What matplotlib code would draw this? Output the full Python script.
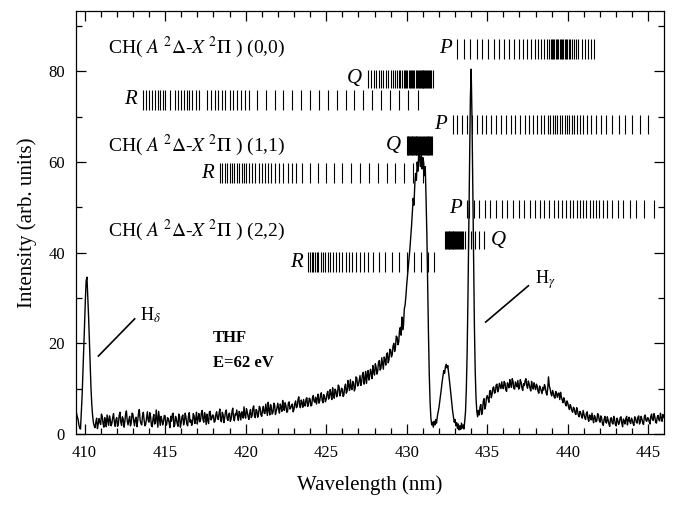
import matplotlib
matplotlib.use("Agg")
import matplotlib.pyplot as plt
import numpy as np
from matplotlib.ticker import MultipleLocator

plt.rcParams['font.family'] = ['Liberation Serif', 'DejaVu Serif']
plt.rcParams['mathtext.fontset'] = 'stix'

# spectrum: readings every 0.1 nm from 409.5 nm ...
wl_start = 409.5
wl_step = 0.05
intensity = [
    4.6, 3.2, 1.3, 4.8, 13.5,
    24.0, 33.8, 30.5, 20.5, 10.2, 4.1, 1.8, 2.6, 1.2, 3.4,       # 410
    2.1, 3.8, 1.5, 2.9, 4.2, 1.9, 3.1, 2.4, 4.5, 1.7,            # 411
    3.6, 2.2, 4.8, 1.9, 3.3, 2.7, 5.1, 2.0, 3.9, 2.5,            # 412
    4.4, 1.8, 3.7, 2.9, 5.4, 2.3, 4.1, 3.0, 2.2, 4.9,            # 413
    2.6, 3.8, 1.6, 4.3, 2.4, 3.5, 5.0, 1.9, 3.2, 2.7,            # 414
    4.0, 2.1, 3.4, 1.4, 2.8, 4.6, 2.0, 3.3, 1.7, 3.9,            # 415
    2.5, 4.2, 2.9, 3.6, 1.8, 4.7, 3.1, 2.4, 4.0, 3.3,            # 416
    2.2, 4.5, 3.0, 5.2, 2.6, 3.8, 4.4, 2.3, 5.0, 3.4,            # 417
    4.1, 2.8, 4.9, 3.2, 5.5, 2.7, 4.3, 3.6, 5.3, 3.0,            # 418
    4.6, 3.3, 5.7, 2.9, 4.2, 3.8, 5.0, 3.1, 4.8, 6.0,            # 419
    3.5, 4.9, 3.2, 5.4, 4.0, 6.2, 3.6, 5.1, 4.4, 5.8,            # 420
    3.9, 6.1, 4.5, 5.3, 7.0, 4.2, 5.6, 4.8, 6.4, 5.0,            # 421
    6.8, 4.6, 5.9, 7.4, 5.2, 6.3, 4.9, 7.1, 5.7, 6.6,            # 422
    5.4, 7.3, 6.0, 8.2, 5.8, 6.9, 7.6, 6.2, 8.0, 6.5,            # 423
    7.7, 6.3, 8.5, 7.0, 6.6, 8.8, 7.3, 9.1, 6.9, 8.2,            # 424
    7.6, 9.4, 8.1, 8.8, 10.2, 7.9, 9.6, 8.7, 10.5, 9.0,          # 425
    9.9, 8.6, 11.0, 9.4, 10.6, 12.0, 9.8, 11.3, 10.1, 12.4,      # 426
    10.8, 12.9, 11.5, 13.6, 12.1, 11.2, 14.0, 12.7, 13.4, 15.1,  # 427
    13.0, 14.8, 13.9, 16.2, 14.5, 15.6, 17.0, 15.2, 17.9, 16.4,  # 428
    18.6, 17.5, 20.0, 19.1, 21.4, 20.2, 23.5, 25.8, 24.0, 28.5,  # 429
    33.0, 37.0, 41.0, 46.0, 52.0, 55.0, 56.0, 58.0, 61.0, 62.0,  # 430
    61.0, 57.0, 52.0, 33.0, 13.0, 3.5, 2.6, 2.8, 3.2, 3.9,       # 431
    5.8, 8.5, 11.6, 14.0, 14.8, 14.6, 13.5, 10.2, 6.6, 3.8,      # 432
    3.2, 2.5, 2.2, 1.8, 2.4, 2.0, 2.8, 10.0, 30.0, 60.0,         # 433
    80.5, 54.0, 24.0, 8.0, 3.8, 4.2, 6.5, 5.0, 7.8, 6.2,         # 434
    8.5, 7.0, 9.6, 8.8, 10.4, 9.2, 11.0, 9.8, 10.6, 11.5,        # 435
    10.0, 11.2, 9.4, 10.8, 12.0, 10.3, 11.6, 9.9, 10.9, 11.8,    # 436
    10.2, 11.4, 9.6, 10.7, 12.2, 10.1, 11.0, 9.5, 10.5, 11.3,    # 437
    9.8, 10.6, 9.0, 10.1, 8.9, 9.7, 10.4, 8.6, 12.6, 10.0,       # 438
    8.4, 9.1, 7.9, 8.8, 9.0, 7.6, 8.2, 6.9, 7.4, 6.2,            # 439
    6.8, 5.4, 6.0, 4.8, 5.6, 4.3, 5.1, 3.8, 4.7, 3.5,            # 440
    4.4, 3.2, 4.9, 2.8, 3.9, 4.6, 2.5, 3.7, 2.9, 4.2,            # 441
    2.6, 3.5, 1.9, 3.9, 2.4, 3.1, 1.7, 3.6, 2.2, 3.3,            # 442
    1.8, 3.0, 2.5, 3.8, 1.6, 2.9, 3.4, 2.0, 3.7, 2.3,            # 443
    3.1, 1.9, 3.6, 2.4, 4.0, 2.7, 3.3, 2.1, 4.2, 2.8,            # 444
    3.5, 2.2, 4.4, 3.0, 3.8, 2.4, 4.1, 2.9, 3.6, 4.3,            # 445
    3.4,
]
# ... and the readings halfway between them (409.55, 409.65, ...)
intensity_mid = [
    3.8, 2.0, 1.1, 8.5, 19.0,
    29.5, 34.6, 26.0, 15.0, 6.5, 2.5, 1.4, 3.5, 2.2, 2.6,        # 410
    4.4, 2.3, 3.6, 1.6, 3.0, 4.0, 1.8, 3.7, 2.6, 3.2,            # 411
    1.7, 4.1, 2.6, 3.8, 1.5, 4.4, 2.9, 3.1, 1.8, 4.6,            # 412
    2.9, 3.3, 1.6, 4.6, 3.1, 2.0, 4.8, 1.8, 3.6, 3.0,            # 413
    4.7, 1.9, 3.4, 2.2, 5.3, 1.5, 3.4, 3.9, 2.0, 4.1,            # 414
    1.9, 3.6, 2.5, 3.9, 4.3, 1.6, 3.9, 2.3, 4.4, 1.5,            # 415
    3.8, 2.0, 4.6, 2.2, 3.9, 2.6, 1.9, 4.5, 2.3, 4.8,            # 416
    3.5, 2.7, 4.6, 3.3, 4.7, 2.1, 3.0, 4.9, 3.1, 4.2,            # 417
    2.6, 4.3, 3.4, 4.6, 3.0, 4.8, 2.5, 4.9, 3.4, 4.4,            # 418
    2.8, 4.9, 3.6, 4.4, 5.3, 3.0, 4.4, 4.9, 3.5, 4.1,            # 419
    5.6, 3.9, 4.5, 3.6, 5.7, 3.9, 5.4, 3.7, 6.1, 4.2,            # 420
    5.3, 4.6, 6.6, 4.1, 5.3, 6.5, 4.4, 6.8, 4.3, 5.9,            # 421
    5.4, 6.6, 5.0, 6.0, 6.9, 4.8, 6.8, 5.5, 6.3, 4.9,            # 422
    6.7, 5.8, 7.6, 6.3, 7.5, 5.9, 6.3, 7.7, 6.1, 7.9,            # 423
    6.2, 8.0, 7.2, 8.1, 7.9, 6.8, 8.6, 7.4, 8.7, 7.1,            # 424
    8.9, 7.7, 9.8, 7.6, 8.6, 9.9, 8.2, 10.8, 8.4, 10.1,          # 425
    8.3, 10.4, 9.0, 11.8, 9.6, 10.2, 11.6, 9.5, 12.6, 10.6,      # 426
    11.9, 10.7, 13.1, 11.0, 13.8, 12.9, 11.9, 14.3, 12.2, 13.8,  # 427
    15.5, 13.2, 15.9, 14.1, 16.8, 14.3, 16.4, 17.6, 15.7, 18.7,  # 428
    17.0, 19.4, 18.2, 21.6, 19.7, 22.8, 21.8, 23.0, 27.6, 30.5,  # 429
    35.0, 39.0, 43.5, 49.0, 50.5, 57.5, 60.0, 62.5, 59.0, 58.5,  # 430
    60.0, 59.0, 44.0, 22.0, 7.0, 2.0, 1.5, 2.0, 2.4, 4.8,        # 431
    7.2, 10.0, 12.8, 13.4, 15.4, 15.1, 12.0, 8.4, 5.0, 2.6,      # 432
    1.8, 1.2, 0.9, 1.0, 1.3, 1.1, 5.0, 18.0, 45.0, 74.0,         # 433
    70.0, 38.0, 14.0, 5.0, 5.2, 6.0, 4.3, 7.2, 5.5, 8.0,         # 434
    7.8, 9.5, 8.0, 10.2, 9.0, 10.8, 9.3, 11.2, 10.0, 10.3,       # 435
    11.6, 9.7, 11.3, 10.2, 11.0, 12.2, 10.0, 11.5, 10.4, 9.9,    # 436
    12.0, 10.2, 11.1, 11.8, 10.6, 11.7, 10.1, 11.6, 9.9, 10.4,   # 437
    11.0, 9.4, 10.6, 9.5, 10.3, 10.9, 9.1, 9.9, 10.6, 8.9,       # 438
    9.6, 8.2, 9.4, 8.1, 9.0, 9.2, 7.5, 8.0, 6.6, 7.3,            # 439
    5.9, 6.5, 5.1, 5.9, 4.6, 5.8, 4.2, 5.0, 3.9, 5.2,            # 440
    3.6, 4.5, 3.4, 4.2, 3.1, 3.3, 4.1, 2.7, 4.5, 3.0,            # 441
    4.0, 2.3, 3.2, 2.7, 3.8, 2.2, 3.4, 2.5, 3.9, 2.1,            # 442
    3.5, 2.1, 3.6, 2.4, 3.3, 2.2, 3.9, 3.1, 2.7, 3.5,            # 443
    2.3, 3.8, 2.6, 3.7, 2.2, 3.9, 2.4, 3.8, 3.0, 3.6,            # 444
    2.7, 3.9, 3.2, 4.5, 2.6, 3.7, 3.1, 4.6, 2.8, 3.9,            # 445
]
spectrum = np.empty(len(intensity) + len(intensity_mid))
spectrum[0::2] = intensity
spectrum[1::2] = intensity_mid
wavelength = wl_start + wl_step * np.arange(len(spectrum))

# rotational line positions (nm) of the CH A-X bands
p00 = [433.15, 433.55, 433.95, 434.35, 434.7, 435.05, 435.4, 435.75, 436.05,
       436.35, 436.65, 436.95, 437.2, 437.45, 437.7, 437.95, 438.15, 438.35,
       438.55, 438.7, 438.85, 438.93, 439.01, 439.09, 439.17, 439.25, 439.33,
       439.41, 439.49, 439.57, 439.65, 439.73, 439.81, 439.89, 439.97, 440.05,
       440.15, 440.25, 440.37, 440.5, 440.65, 440.85, 441.05, 441.25, 441.45,
       441.65]
q00 = [427.6, 427.8, 427.95, 428.1, 428.25, 428.4, 428.55, 428.7, 428.85,
       429.0, 429.13, 429.26, 429.38, 429.5, 429.6, 429.7, 429.8, 429.88,
       429.96, 430.04, 430.12, 430.2, 430.27, 430.34, 430.41, 430.48, 430.55,
       430.62, 430.68, 430.74, 430.8, 430.86, 430.92, 430.98, 431.04, 431.1,
       431.16, 431.22, 431.28, 431.34, 431.4, 431.46, 431.52, 431.6]
r00 = [413.6, 413.8, 414.0, 414.2, 414.35, 414.55, 414.7, 414.85, 415.0, 415.3,
       415.6, 415.8, 416.0, 416.15, 416.35, 416.5, 416.7, 416.9, 417.1, 417.6,
       417.85, 418.1, 418.3, 418.55, 418.75, 419.0, 419.2, 419.45, 419.7,
       419.95, 420.2, 420.7, 421.25, 421.8, 422.35, 422.9, 423.45, 424.0,
       424.55, 425.1, 425.65, 426.2, 426.75, 427.3, 427.85, 428.4, 428.95,
       429.5, 430.1, 430.7]
p11 = [432.85, 433.15, 433.45, 433.75, 434.05, 434.35, 434.65, 434.95, 435.25,
       435.55, 435.85, 436.15, 436.45, 436.75, 437.05, 437.35, 437.6, 437.85,
       438.1, 438.35, 438.55, 438.75, 438.9, 439.05, 439.2, 439.35, 439.5,
       439.65, 439.8, 439.95, 440.1, 440.25, 440.4, 440.55, 440.75, 440.95,
       441.2, 441.45, 441.75, 442.05, 442.4, 442.75, 443.15, 443.55, 444.0,
       444.45, 445.0]
q11 = [430.0, 430.05, 430.1, 430.15, 430.2, 430.25, 430.3, 430.35, 430.4,
       430.45, 430.5, 430.55, 430.6, 430.65, 430.7, 430.75, 430.85, 430.9,
       430.95, 431.0, 431.1, 431.15, 431.2, 431.25, 431.3, 431.35, 431.4,
       431.45, 431.5, 431.55]
r11 = [418.4, 418.55, 418.7, 418.85, 419.0, 419.15, 419.3, 419.45, 419.6,
       419.75, 419.9, 420.05, 420.2, 420.4, 420.6, 420.8, 421.0, 421.2, 421.4,
       421.6, 421.85, 422.1, 422.35, 422.6, 422.85, 423.1, 423.5, 424.0, 424.5,
       425.0, 425.5, 426.0, 426.55, 427.1, 427.65, 428.2, 428.75, 429.3,
       429.85, 430.4, 431.0]
p22 = [433.75, 433.85, 434.15, 434.5, 434.85, 435.2, 435.55, 435.9, 436.25,
       436.6, 436.95, 437.3, 437.65, 437.95, 438.25, 438.55, 438.85, 439.15,
       439.4, 439.65, 439.9, 440.15, 440.35, 440.55, 440.75, 440.95, 441.15,
       441.35, 441.55, 441.75, 441.95, 442.2, 442.45, 442.75, 443.1, 443.45,
       443.85, 444.25, 444.75, 445.35]
q22 = [432.4, 432.45, 432.5, 432.55, 432.6, 432.65, 432.7, 432.75, 432.8,
       432.85, 432.9, 432.95, 433.0, 433.05, 433.1, 433.16, 433.22, 433.28,
       433.35, 433.42, 433.5, 433.6, 433.8, 434.0, 434.25, 434.5, 434.8]
r22 = [423.9, 424.0, 424.1, 424.2, 424.3, 424.4, 424.5, 424.65, 424.8, 424.95,
       425.1, 425.25, 425.4, 425.6, 425.8, 426.0, 426.2, 426.4, 426.6, 426.85,
       427.1, 427.35, 427.6, 427.9, 428.25, 428.65, 429.1, 429.55, 430.0,
       430.45, 430.9, 431.35, 431.7]

# (lines, y bottom, y top, letter, letter side)
branches = [
    (p00, 82.8, 87.2, 'P', 'left'),
    (q00, 76.4, 80.4, 'Q', 'left'),
    (r00, 71.6, 75.9, 'R', 'left'),
    (p11, 66.2, 70.4, 'P', 'left'),
    (q11, 61.6, 65.8, 'Q', 'left'),
    (r11, 55.4, 59.7, 'R', 'left'),
    (p22, 47.6, 51.7, 'P', 'left'),
    (q22, 40.8, 44.8, 'Q', 'right'),
    (r22, 35.8, 40.1, 'R', 'left'),
]
band_labels = ["(0,0)", "(1,1)", "(2,2)"]
band_label_y = [85.2, 63.6, 45.0]

fig = plt.figure(figsize=(6.73, 5.05), dpi=100)
ax = fig.add_axes([76 / 673, 71 / 505, 588 / 673, 423.3 / 505])

ax.plot(wavelength, spectrum, color='black', linewidth=1.0)

for lines, y0, y1, letter, side in branches:
    ax.vlines(lines, y0, y1, color='black', linewidth=0.8)
    ym = 0.5 * (y0 + y1)
    if side == 'left':
        ax.text(min(lines) - 0.35, ym, letter, ha='right', va='center',
                fontsize=15, style='italic')
    else:
        ax.text(max(lines) + 0.45, ym, letter, ha='left', va='center',
                fontsize=15, style='italic')

for lab, y in zip(band_labels, band_label_y):
    ax.text(411.45, y, r"CH( $A\ ^{2}\Delta$-$X\ ^{2}\Pi$ ) " + lab,
            ha='left', va='center', fontsize=14)

# H lines
ax.plot([410.86, 413.11], [17.2, 25.4], color='black', linewidth=1.2)
ax.text(413.47, 26.3, r"H$_{\delta}$", ha='left', va='center', fontsize=13)
ax.plot([434.9, 437.55], [24.7, 32.7], color='black', linewidth=1.2)
ax.text(437.95, 34.0, r"H$_{\gamma}$", ha='left', va='center', fontsize=13)

ax.text(417.95, 21.2, "THF", ha='left', va='center', fontsize=12,
        fontweight='bold')
ax.text(417.95, 15.7, "E=62 eV", ha='left', va='center', fontsize=12,
        fontweight='bold')

ax.set_xlim(409.47, 445.97)
ax.set_ylim(0, 93.4)
ax.xaxis.set_major_locator(MultipleLocator(5))
ax.xaxis.set_minor_locator(MultipleLocator(1))
ax.yaxis.set_major_locator(MultipleLocator(20))
ax.yaxis.set_minor_locator(MultipleLocator(10))
ax.tick_params(which='both', direction='in', top=True, right=True,
               labelsize=12, width=0.9)
ax.tick_params(which='major', length=7, pad=8)
ax.tick_params(which='minor', length=4)
for s in ax.spines.values():
    s.set_linewidth(0.9)

ax.set_xlabel("Wavelength (nm)", fontsize=15, labelpad=10)
ax.set_ylabel("Intensity (arb. units)", fontsize=15, labelpad=8)

fig.savefig("out.png", dpi=100)
